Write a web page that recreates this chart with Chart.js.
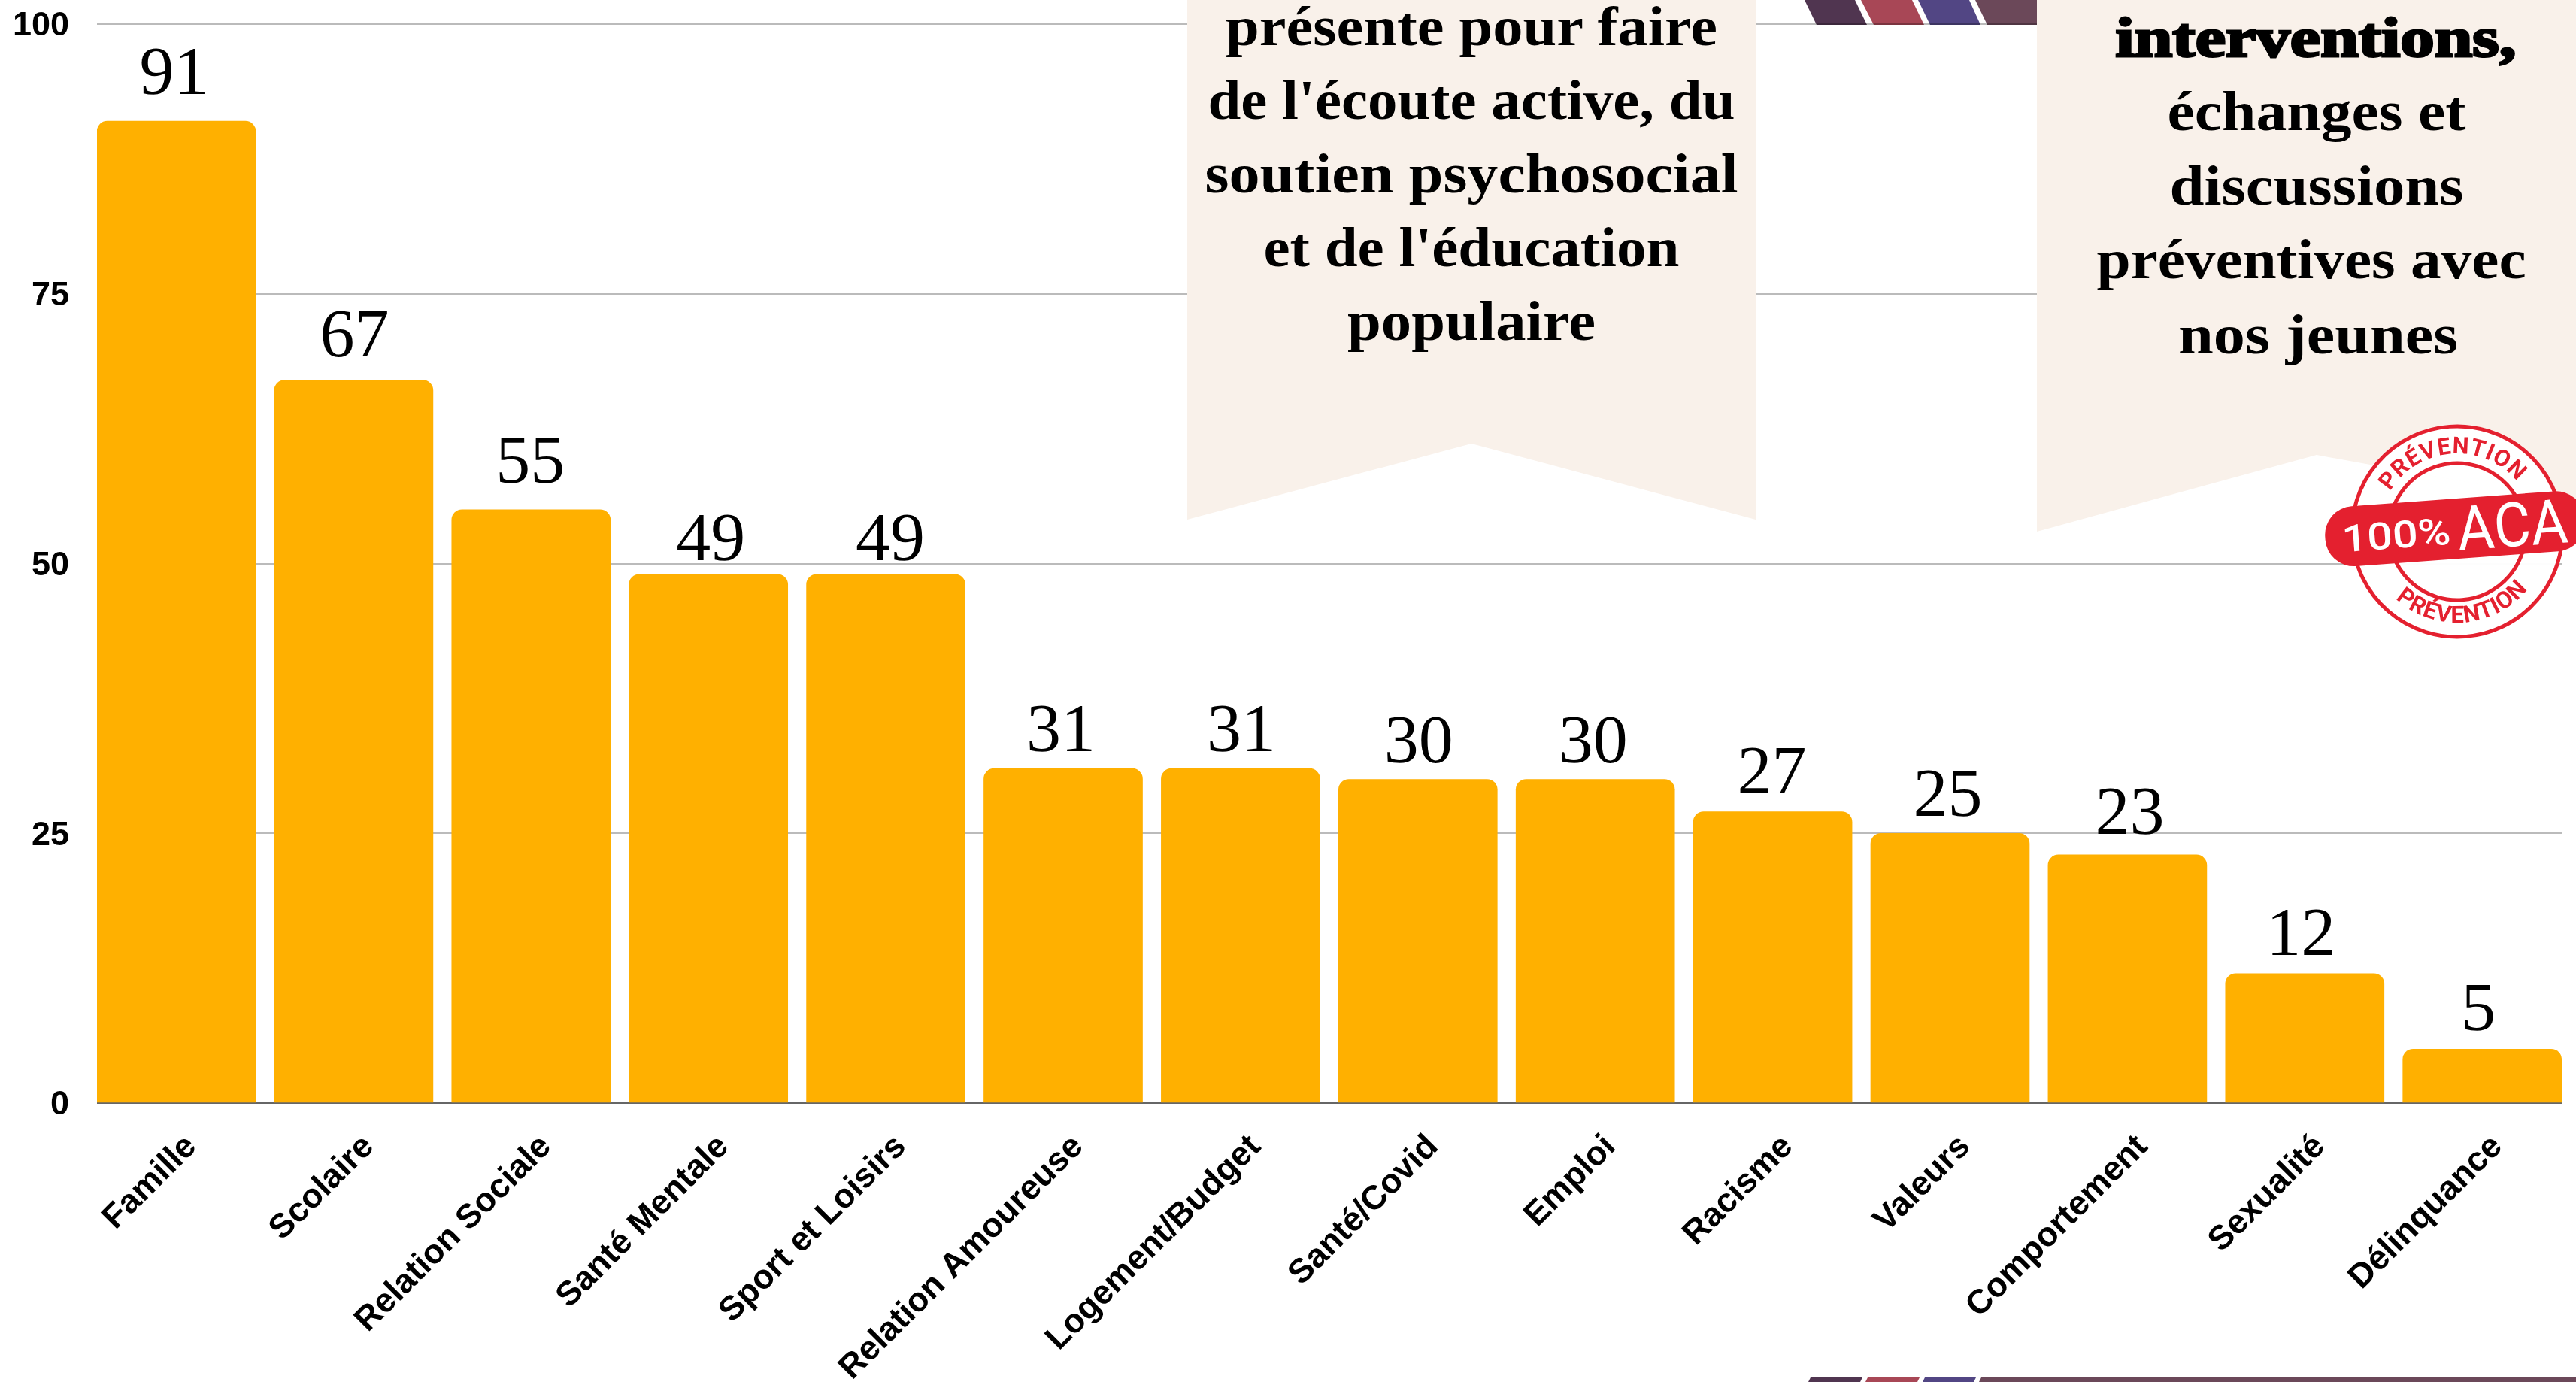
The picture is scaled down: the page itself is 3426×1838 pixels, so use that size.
<!DOCTYPE html>
<html lang="fr">
<head>
<meta charset="utf-8">
<script src="https://cdn.jsdelivr.net/npm/chart.js@4/dist/chart.umd.js"></script>
<style>
html,body{margin:0;padding:0;background:#fff;width:3426px;height:1838px;overflow:hidden}
canvas,svg{position:absolute;left:0;top:0}
.t{font-family:"Liberation Serif",serif;font-weight:700;font-size:74px;fill:#000;text-anchor:middle}
.s{mix-blend-mode:multiply}
</style>
</head>
<body>
<canvas id="c" width="3426" height="1838"></canvas>
<svg width="3426" height="1838" viewBox="0 0 3426 1838">
  <polygon class="s" points="2400,0 2467,0 2483,33 2416,33" fill="#503550"/>
  <polygon class="s" points="2475,0 2543,0 2559,33 2492,33" fill="#A84756"/>
  <polygon class="s" points="2551,0 2619,0 2634,33 2567,33" fill="#524684"/>
  <polygon class="s" points="2627,0 2709,0 2709,33 2643,33" fill="#6B4859"/>
  <polygon points="2408,1832 2477,1832 2474,1838 2405,1838" fill="#503550"/>
  <polygon points="2484,1832 2553,1832 2550,1838 2481,1838" fill="#A84756"/>
  <polygon points="2560,1832 2628,1832 2625,1838 2557,1838" fill="#524684"/>
  <polygon points="2635,1832 3426,1832 3426,1838 2632,1838" fill="#6B4859"/>

  <polygon points="1579,0 2335,0 2335,691 1957,590 1579,691" fill="#F9F1EA"/>
  <polygon points="2709,0 3426,0 3426,668 3081,605 2709,707" fill="#F9F1EA"/>

  <text class="t" x="1957" y="60" textLength="654" lengthAdjust="spacingAndGlyphs">présente pour faire</text>
  <text class="t" x="1957" y="158" textLength="701" lengthAdjust="spacingAndGlyphs">de l'écoute active, du</text>
  <text class="t" x="1957" y="256" textLength="709" lengthAdjust="spacingAndGlyphs">soutien psychosocial</text>
  <text class="t" x="1957" y="354" textLength="553" lengthAdjust="spacingAndGlyphs">et de l'éducation</text>
  <text class="t" x="1957" y="452" textLength="330" lengthAdjust="spacingAndGlyphs">populaire</text>

  <text class="t" x="3080" y="75" textLength="533" lengthAdjust="spacingAndGlyphs" stroke="#000" stroke-width="3">interventions,</text>
  <text class="t" x="3081" y="173" textLength="397" lengthAdjust="spacingAndGlyphs">échanges et</text>
  <text class="t" x="3081" y="272" textLength="391" lengthAdjust="spacingAndGlyphs">discussions</text>
  <text class="t" x="3074" y="370" textLength="571" lengthAdjust="spacingAndGlyphs">préventives avec</text>
  <text class="t" x="3083" y="470" textLength="372" lengthAdjust="spacingAndGlyphs">nos jeunes</text>

  <defs>
    <path id="arcTop" d="M 3164 707 A 104 104 0 0 1 3372 707"/>
    <path id="arcBot" d="M 3147 707 A 121 121 0 0 0 3389 707"/>
  </defs>
  <g transform="rotate(-4.2 3268 707)">
    <circle cx="3268" cy="707" r="140" fill="#fff" fill-opacity="0.96" stroke="#E4202F" stroke-width="5"/>
    <circle cx="3268" cy="707" r="91" fill="none" stroke="#E4202F" stroke-width="5"/>
    <text font-family="Roboto" font-weight="700" font-size="31" fill="#E4202F" text-anchor="middle" letter-spacing="1">
      <textPath href="#arcTop" startOffset="50%">PRÉVENTION</textPath>
    </text>
    <text font-family="Roboto" font-weight="700" font-size="31" fill="#E4202F" text-anchor="middle" letter-spacing="1">
      <textPath href="#arcBot" startOffset="50%">PRÉVENTION</textPath>
    </text>
  </g>
  <g transform="rotate(-4.2 3268 703)">
    <rect x="3092" y="663" width="346" height="80" rx="38" fill="#E4202F"/>
    <text x="3114" y="723" font-family="Roboto" font-weight="500" font-size="50" fill="#fff" textLength="145" lengthAdjust="spacingAndGlyphs">100%</text>
    <text x="3268" y="732" font-family="Roboto" font-weight="400" font-size="82" fill="#fff" textLength="147" lengthAdjust="spacingAndGlyphs">ACA</text>
  </g>
</svg>
<script>
const categories = ["Famille","Scolaire","Relation Sociale","Santé Mentale","Sport et Loisirs","Relation Amoureuse","Logement/Budget","Santé/Covid","Emploi","Racisme","Valeurs","Comportement","Sexualité","Délinquance"];
const values = [91,67,55,49,49,31,31,30,30,27,25,23,12,5];
const yTicks = [0,25,50,75,100];
const labelNudgeX = [-2,2,0,4,7,-2,2,2,-2,0,-2,4,-4,-4];
const labelNudgeY = [-4,0,-4,13,13,9,9,9,9,7,9,4,7,7];

const AMBER = '#FFB000';

class InsetCategoryScale extends Chart.CategoryScale {
  getPixelForValue(value) {
    const v = typeof value === 'number' ? value : this.parse(value);
    return this.left + (v + 0.4472) * 235.9;
  }
}
InsetCategoryScale.id = 'insetCategory';
InsetCategoryScale.defaults = Chart.CategoryScale.defaults;
Chart.register(InsetCategoryScale);

const valueLabels = {
  id: 'valueLabels',
  afterDatasetsDraw(chart) {
    const ctx = chart.ctx;
    ctx.save();
    ctx.font = '92px "Liberation Serif", serif';
    ctx.fillStyle = '#000';
    ctx.textAlign = 'center';
    ctx.textBaseline = 'alphabetic';
    chart.getDatasetMeta(0).data.forEach((bar, i) => {
      ctx.fillText(String(values[i]), bar.x - 1 + labelNudgeX[i], bar.y - 32 + labelNudgeY[i]);
    });
    ctx.restore();
  }
};

new Chart(document.getElementById('c'), {
  type: 'bar',
  data: {
    labels: categories,
    datasets: [{
      data: values,
      backgroundColor: AMBER,
      barThickness: 211,
      borderRadius: { topLeft: 14, topRight: 14, bottomLeft: 0, bottomRight: 0 },
      borderSkipped: false
    }]
  },
  options: {
    responsive: false,
    animation: false,
    devicePixelRatio: 1,
    layout: { autoPadding: false, padding: { top: 32, right: 19, left: 0, bottom: 0 } },
    plugins: { legend: { display: false }, tooltip: { enabled: false }, title: { display: false } },
    scales: {
      x: {
        type: 'insetCategory',
        grid: { display: false, drawTicks: false },
        border: { display: false },
        ticks: {
          autoSkip: false, maxRotation: 45, minRotation: 45, padding: 32, labelOffset: 20,
          color: '#000',
          font: { family: '"Liberation Sans", sans-serif', weight: 'bold', size: 45 }
        },
        afterFit(s) { s.height = 371; }
      },
      y: {
        min: 0, max: 100,
        afterBuildTicks(s) { s.ticks = yTicks.map(v => ({ value: v })); },
        grid: {
          drawTicks: false,
          lineWidth: 2,
          color: c => c.tick && c.tick.value === 0 ? '#666666' : '#BBBBBB'
        },
        border: { display: false },
        ticks: {
          padding: 37, labelOffset: 3,
          color: '#000',
          font: { family: '"Liberation Sans", sans-serif', weight: 'bold', size: 45 }
        },
        afterFit(s) { s.width = 129; s.paddingTop = 0; s.paddingBottom = 0; }
      }
    }
  },
  plugins: [valueLabels]
});
</script>
</body>
</html>
